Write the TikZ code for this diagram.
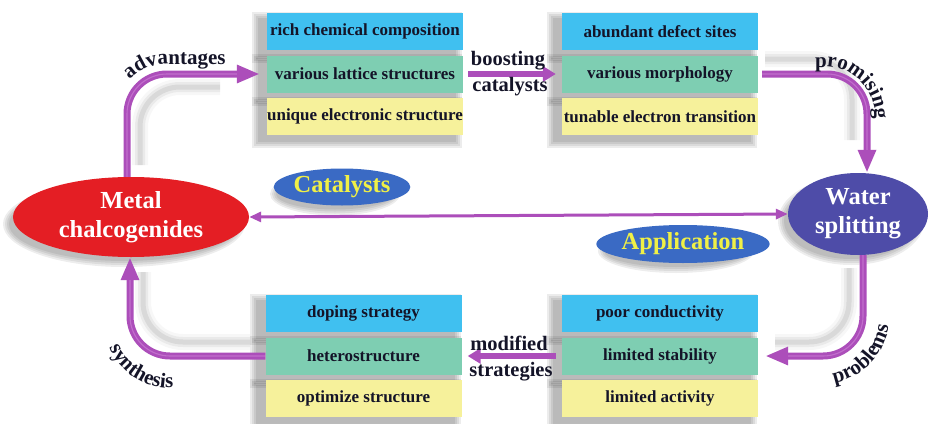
\documentclass[tikz,border=0pt]{standalone}
\usepackage{fontspec}
\setmainfont{Liberation Serif}
\usetikzlibrary{arrows.meta,shapes.geometric,decorations.text}

\definecolor{boxblue}{RGB}{64,192,240}
\definecolor{boxgreen}{RGB}{126,206,178}
\definecolor{boxyellow}{RGB}{246,241,155}
\definecolor{arrowpurple}{RGB}{172,78,186}
\definecolor{arrowlight}{RGB}{226,160,232}
\definecolor{mcred}{RGB}{228,30,36}
\definecolor{wsblue}{RGB}{78,76,168}
\definecolor{tagblue}{RGB}{58,106,196}
\definecolor{tagyellow}{RGB}{240,240,70}
\definecolor{inktext}{RGB}{20,20,40}

\newcommand\curvefont{\fontsize{21}{24}\selectfont\bfseries}

% soft shadow below-left of a rectangular node
\newcommand\boxshade[1]{%
  \foreach \g in {1,3,5,7}{%
    \fill[black, fill opacity=0.075]
      ([xshift=-8pt-\g pt, yshift=-6pt-\g pt]#1.south west) rectangle
      ([xshift=-8pt+\g pt, yshift=-6pt+\g pt]#1.north east);}}
% soft shadow below-left of an elliptic node
\newcommand\ovalshade[3]{%
  \foreach \g in {1,3,5,7}{%
    \fill[black, fill opacity=0.07]
      ([xshift=-7pt, yshift=-7pt]#1.center) ellipse[x radius=#2+\g-4, y radius=#3+\g-4];}}

\pgfdeclarelayer{back}
\pgfsetlayers{back,main}

\tikzset{
  item/.style={rectangle, minimum width=196pt, minimum height=37pt, inner sep=0pt,
    font=\fontsize{17}{19}\selectfont\bfseries, text=inktext},
  blueitem/.style={item, fill=boxblue},
  greenitem/.style={item, fill=boxgreen},
  yellowitem/.style={item, fill=boxyellow},
  hub/.style={ellipse, inner sep=0pt, align=center, text=white,
    font=\fontsize{24.5}{29}\selectfont\bfseries},
  tag/.style={ellipse, inner sep=0pt, fill=tagblue, text=tagyellow,
    font=\fontsize{24.5}{29}\selectfont\bfseries},
  arrowword/.style={font=\fontsize{20.5}{24}\selectfont\bfseries, text=inktext, inner sep=0pt},
  bigarrow/.style={draw=arrowpurple, line width=7pt, rounded corners=40pt,
    -{Triangle[length=23pt,width=17pt]}},
  tubeshine/.style={draw=arrowlight, line width=1.1pt, rounded corners=40pt, draw opacity=0.4},
  arrowshade/.style={draw=black, line width=5pt, draw opacity=0.07,
    preaction={draw=black, line width=10pt, draw opacity=0.05},
    preaction={draw=black, line width=16pt, draw opacity=0.03}},
  midarrow/.style={draw=arrowpurple, line width=6pt, -{Triangle[length=13pt,width=15pt]}},
  thinarrow/.style={draw=arrowpurple, line width=3pt,
    {Triangle[length=12pt,width=10pt]}-{Triangle[length=12pt,width=10pt]}},
  curvelabel/.style={decorate, decoration={text along path, text align=#1, text color=inktext}},
}

\begin{document}
\begin{tikzpicture}[x=1pt,y=-1pt]
\useasboundingbox (0,0) rectangle (931,423);
\begin{pgfonlayer}{back}
  \fill[white] (0,0) rectangle (931,423);
\end{pgfonlayer}

% properties of metal chalcogenides
\node[blueitem]   (tl1) at (365,31.5)  {rich chemical composition};
\node[greenitem]  (tl2) at (365,74)    {various lattice structures};
\node[yellowitem] (tl3) at (365,116.5) {unique electronic structure};

% features that boost catalysis
\node[blueitem]   (tr1) at (660,31.5)  {abundant defect sites};
\node[greenitem]  (tr2) at (660,74)    {various morphology};
\node[yellowitem] (tr3) at (660,116.5) {tunable electron transition};

% strategies
\node[blueitem]   (bl1) at (363.5,313.5) {doping strategy};
\node[greenitem]  (bl2) at (363.5,356)   {heterostructure};
\node[yellowitem] (bl3) at (363.5,398.5) {optimize structure};

% problems
\node[blueitem]   (br1) at (660,313.5) {poor conductivity};
\node[greenitem]  (br2) at (660,356)   {limited stability};
\node[yellowitem] (br3) at (660,398.5) {limited activity};

% hubs
\node[hub, fill=mcred, minimum width=236pt, minimum height=80pt] (mc) at (131,217) {Metal\\chalcogenides};
\node[hub, fill=wsblue, minimum width=140pt, minimum height=82pt] (ws) at (858,214) {Water\\splitting};
\node[tag, minimum width=124pt, minimum height=37pt] (cat) at (342,187) {Catalysts};
\node[tag, minimum width=150pt, minimum height=38pt] (app) at (683,244) {Application};

% shadows
\begin{pgfonlayer}{back}
  \foreach \b in {tl1,tl2,tl3,tr1,tr2,tr3,bl1,bl2,bl3,br1,br2,br3} {\boxshade{\b}}
  \ovalshade{mc}{118}{40}
  \ovalshade{ws}{70}{41}
  \ovalshade{cat}{62}{18.5}
  \ovalshade{app}{75}{19}
  % soft shadows inside the bends
  \draw[arrowshade] (140,165) -- (140,127) arc[start angle=180, end angle=270, radius=40] -- (220,87);
  \draw[arrowshade] (765,59) -- (812,59) arc[start angle=270, end angle=360, radius=40] -- (852,140);
  \draw[arrowshade] (849,268) -- (849,302) arc[start angle=0, end angle=90, radius=40] -- (775,342);
  \draw[arrowshade] (250,342) -- (183,342) arc[start angle=90, end angle=180, radius=40] -- (143,272);
\end{pgfonlayer}

% cycle arrows
\draw[bigarrow, shorten >=7pt] ([xshift=-4pt]mc.north) |- (tl2.west);
\draw[tubeshine, shorten >=30pt] ([xshift=-4pt]mc.north) |- (tl2.west);
\draw[bigarrow, shorten <=4pt] (tr2.east) -| ([xshift=9pt]ws.north);
\draw[tubeshine, shorten <=4pt, shorten >=23pt] (tr2.east) -| ([xshift=9pt]ws.north);
\draw[bigarrow, shorten >=7pt] ([xshift=5pt]ws.south) |- (br2.east);
\draw[tubeshine, shorten >=30pt] ([xshift=5pt]ws.south) |- (br2.east);
\draw[bigarrow] (bl2.west) -| ([xshift=-1pt]mc.south);
\draw[tubeshine, shorten >=23pt] (bl2.west) -| ([xshift=-1pt]mc.south);

\draw[midarrow, shorten <=5pt, shorten >=6pt] (tl2.east) -- (tr2.west);
\draw[midarrow, shorten <=6pt, shorten >=6pt] (br2.west) -- (bl2.east);
\draw[thinarrow] (mc.east) -- (ws.west);

% straight arrow labels
\node[arrowword] (boost) at (508,61) {boosting};
\node[arrowword] (boostb) at (510,87) {catalysts};
\node[arrowword] (modif) at (509,343) {modified};
\node[arrowword] (modifb) at (511,372) {strategies};

% labels bent along the corners
\path[curvelabel=left, decoration={text={|\curvefont|advantages}}]
  (129.6,79.9) arc[start angle=224, end angle=270, radius=52] -- ++(130,0);
\path[curvelabel=left, decoration={text={|\curvefont|promising}}]
  (815,67) -- (825,67) arc[start angle=270, end angle=360, radius=50] -- ++(0,50);
\path[curvelabel=center, decoration={text={|\curvefont|problems}}]
  (810.4,383.0) arc[start angle=100, end angle=-13, radius=67];
\path[curvelabel=center, decoration={text={|\curvefont|synthesis}}]
  (104,322) arc[start angle=180, end angle=64, radius=66];
\end{tikzpicture}
\end{document}
